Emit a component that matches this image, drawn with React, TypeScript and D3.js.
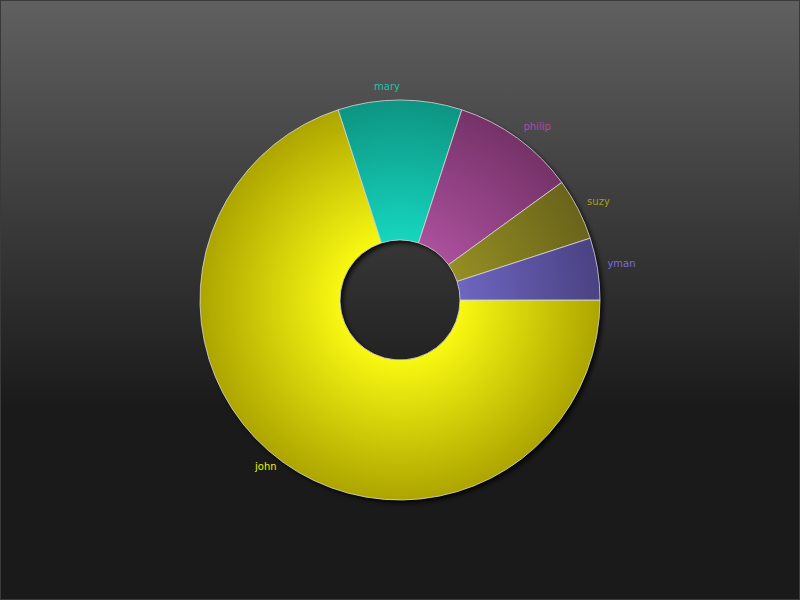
import React from "react";
import * as d3 from "d3";

const names = ["john", "mary", "philip", "suzy", "yman"];
const values = [70, 10, 10, 5, 5];
const innerColors = ["#f8f812", "#16d6be", "#aa509c", "#958e24", "#6e66c0"];
const outerColors = ["#ada500", "#0d9482", "#763268", "#69641a", "#4a4282"];
const labelColors = ["#f0f000", "#1fc2a8", "#b845a8", "#a89e1c", "#7a6ae0"];

const W = 800;
const H = 600;
const cx = 400;
const cy = 300;
const R = 200;
const r0 = 60;
const labelR = 210;

export default function App() {
  const pie = d3
    .pie<number>()
    .value((d) => d)
    .sort(null)
    .startAngle(Math.PI / 2)
    .endAngle(Math.PI / 2 + 2 * Math.PI);
  const arcs = pie(values);
  const arc = d3.arc<d3.PieArcDatum<number>>().innerRadius(r0).outerRadius(R);
  const full = d3.arc<any>().innerRadius(r0).outerRadius(R).startAngle(0).endAngle(2 * Math.PI);

  return (
    <svg
      width={W}
      height={H}
      style={{ position: "fixed", left: 0, top: 0, display: "block" }}
    >
      <defs>
        <linearGradient id="bg" x1="0" y1="0" x2="0" y2="1">
          <stop offset="0" stopColor="#606060" />
          <stop offset="0.68" stopColor="#1a1a1a" />
          <stop offset="1" stopColor="#1a1a1a" />
        </linearGradient>
        {names.map((n, i) => (
          <radialGradient
            key={n}
            id={"g" + i}
            gradientUnits="userSpaceOnUse"
            cx={0}
            cy={0}
            r={R}
          >
            <stop offset="0" stopColor={innerColors[i]} />
            <stop offset={r0 / R} stopColor={innerColors[i]} />
            <stop offset="1" stopColor={outerColors[i]} />
          </radialGradient>
        ))}
        <filter id="shadow" x="-20%" y="-20%" width="140%" height="140%">
          <feGaussianBlur stdDeviation="2" />
        </filter>
      </defs>
      <rect x={0} y={0} width={W} height={H} fill="url(#bg)" />
      <rect x={0.5} y={0.5} width={W - 1} height={H - 1} fill="none" stroke="#3a3a3a" />
      <g transform={`translate(${cx + 3},${cy + 3})`}>
        <path d={full() as string} fill="#000" opacity={0.75} filter="url(#shadow)" />
      </g>
      <g transform={`translate(${cx},${cy})`}>
        {arcs.map((a, i) => (
          <path
            key={names[i]}
            d={arc(a) as string}
            fill={`url(#g${i})`}
            stroke="#d8d8d8"
            strokeOpacity={0.8}
            strokeWidth={1}
          />
        ))}
        {arcs.map((a, i) => {
          const mid = (a.startAngle + a.endAngle) / 2;
          const x = labelR * Math.sin(mid);
          const y = -labelR * Math.cos(mid);
          return (
            <text
              key={"l" + names[i]}
              x={x}
              y={y}
              fill={labelColors[i]}
              fontFamily="DejaVu Sans, sans-serif"
              fontSize={10}
              textAnchor={x < -0.001 || Math.abs(x) < 0.001 ? "end" : "start"}
            >
              {names[i]}
            </text>
          );
        })}
      </g>
    </svg>
  );
}
